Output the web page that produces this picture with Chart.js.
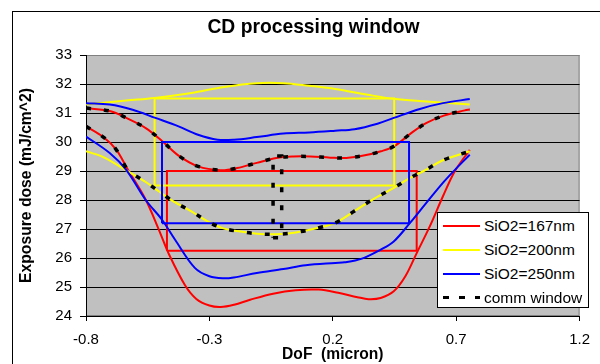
<!DOCTYPE html>
<html>
<head>
<meta charset="UTF-8">
<title>CD processing window</title>
<style>
body { margin: 0; background: #fff; overflow: hidden; }
#wrap { position: relative; width: 600px; height: 364px; overflow: hidden; font-family: "Liberation Sans", Arial, sans-serif; color: #000; }
#frame { position: absolute; left: 12px; top: 11px; width: 700px; height: 500px; border: 1px solid #000; }
#chart { position: absolute; left: 0; top: 0; }
#chartTitle { position: absolute; left: 0; width: 627px; top: 15px; height: 24px; line-height: 24px; text-align: center; font-weight: bold; font-size: 19.3px; }
#legend { position: absolute; left: 437px; top: 212px; width: 150px; height: 94px; border: 1px solid #000; background: #fff; }
.row { position: absolute; left: 0; width: 150px; height: 24px; line-height: 24px; font-size: 15.5px; white-space: nowrap; }
.sample { position: absolute; left: 5px; width: 37px; }
.label { position: absolute; left: 46px; top: 0; }
</style>
<script src="https://cdn.jsdelivr.net/npm/chart.js@4.4.0/dist/chart.umd.min.js"></script>
</head>
<body>
<div id="wrap">
	<div id="frame"></div>
	<canvas id="chart" width="600" height="364"></canvas>
	<div id="chartTitle">CD processing window</div>
	<div id="legend"></div>
</div>
<script>
// axes
var xTicks = [-0.8, -0.3, 0.2, 0.7, 1.2];
var yTicks = [24, 25, 26, 27, 28, 29, 30, 31, 32, 33];

var seriesNames = ['SiO2=167nm', 'SiO2=200nm', 'SiO2=250nm', 'comm window'];
var seriesColors = ['#ff0000', '#ffff00', '#0000ff', '#000000'];

// SiO2=167nm: upper and lower dose limits
var s167UpperX = [-0.8, -0.70, -0.637, -0.558, -0.49, -0.425, -0.346, -0.254, -0.188, -0.108, -0.029, 0.04, 0.11, 0.19, 0.255, 0.33, 0.395, 0.45, 0.515, 0.58, 0.65, 0.735, 0.755];
var s167UpperY = [31.17, 31.06, 30.83, 30.48, 30.02, 29.53, 29.16, 29.03, 29.1, 29.28, 29.45, 29.5, 29.5, 29.46, 29.45, 29.54, 29.68, 29.86, 30.29, 30.66, 30.91, 31.09, 31.12];
var s167LowerX = [-0.8, -0.73, -0.677, -0.63, -0.558, -0.505, -0.466, -0.40, -0.353, -0.30, -0.254, -0.20, -0.135, -0.042, 0.05, 0.143, 0.222, 0.30, 0.345, 0.394, 0.447, 0.494, 0.54, 0.593, 0.646, 0.695, 0.755];
var s167LowerY = [30.54, 30.17, 29.73, 29.04, 28.01, 26.98, 26.17, 25.08, 24.59, 24.36, 24.31, 24.39, 24.56, 24.77, 24.89, 24.91, 24.8, 24.65, 24.58, 24.62, 24.85, 25.37, 26.17, 27.09, 28.12, 29.0, 29.73];

// SiO2=200nm
var s200UpperX = [-0.8, -0.637, -0.522, -0.373, -0.24, -0.108, 0.0, 0.104, 0.21, 0.341, 0.447, 0.579, 0.755];
var s200UpperY = [31.29, 31.43, 31.52, 31.69, 31.9, 32.03, 32.03, 31.94, 31.83, 31.63, 31.49, 31.4, 31.29];
var s200LowerX = [-0.8, -0.73, -0.637, -0.558, -0.505, -0.446, -0.373, -0.307, -0.247, -0.174, -0.108, -0.03, 0.05, 0.156, 0.21, 0.288, 0.368, 0.447, 0.513, 0.579, 0.646, 0.755];
var s200LowerY = [29.68, 29.48, 29.02, 28.62, 28.3, 27.95, 27.61, 27.26, 27.03, 26.91, 26.84, 26.82, 26.88, 27.07, 27.21, 27.62, 28.05, 28.42, 28.76, 29.05, 29.37, 29.68];

// SiO2=250nm
var s250UpperX = [-0.8, -0.704, -0.611, -0.519, -0.425, -0.346, -0.267, -0.20, -0.108, 0.0, 0.104, 0.21, 0.288, 0.381, 0.447, 0.553, 0.646, 0.755];
var s250UpperY = [31.34, 31.29, 31.11, 30.83, 30.54, 30.25, 30.08, 30.08, 30.17, 30.29, 30.33, 30.39, 30.44, 30.63, 30.83, 31.14, 31.34, 31.48];
var s250LowerX = [-0.8, -0.704, -0.637, -0.558, -0.492, -0.439, -0.359, -0.30, -0.241, -0.201, -0.108, 0.0, 0.09, 0.21, 0.248, 0.315, 0.394, 0.447, 0.513, 0.579, 0.646, 0.695, 0.755];
var s250LowerY = [30.19, 29.62, 29.04, 28.0, 27.32, 26.63, 25.66, 25.37, 25.3, 25.33, 25.48, 25.62, 25.75, 25.83, 25.85, 25.97, 26.29, 26.57, 27.21, 27.9, 28.59, 29.04, 29.56];

// process windows (x from-to, y from-to)
var win167X = [-0.472, 0.540];
var win167Y = [26.25, 29.0];
var win200X = [-0.522, 0.449];
var win200Y = [28.5, 31.5];
var win250X = [-0.492, 0.509];
var win250Y = [27.2, 30.0];
var commWinX = [-0.042, -0.007];
var commWinY = [26.7, 29.52];
// where the 167nm lower limit hands over to the 200nm lower limit
var commCrossX = -0.63;

function pts(xs, ys) {
	return xs.map(function (x, i) { return { x: x, y: ys[i] }; });
}
function rect(xs, ys) {
	return [
		{ x: xs[0], y: ys[0] }, { x: xs[1], y: ys[0] },
		{ x: xs[1], y: ys[1] }, { x: xs[0], y: ys[1] }, { x: xs[0], y: ys[0] }
	];
}

var commLower = pts(s167LowerX, s167LowerY).filter(function (p) { return p.x <= commCrossX; })
	.concat(pts(s200LowerX, s200LowerY).filter(function (p) { return p.x > commCrossX; }));

function solid(idx, data, order, tension) {
	return {
		label: seriesNames[idx], data: data, order: order,
		showLine: true, borderColor: seriesColors[idx], backgroundColor: seriesColors[idx],
		borderWidth: 2, pointRadius: 0, tension: tension, fill: false
	};
}
function dashed(data, tension) {
	return {
		label: seriesNames[3], data: data, order: 0,
		showLine: true, borderColor: seriesColors[3], backgroundColor: seriesColors[3],
		borderWidth: 3.5, borderDash: [5, 13], borderCapStyle: 'butt',
		pointRadius: 0, tension: tension, fill: false
	};
}

var datasets = [
	solid(0, pts(s167UpperX, s167UpperY), 3, 0.35),
	solid(0, pts(s167LowerX, s167LowerY), 3, 0.35),
	solid(0, rect(win167X, win167Y), 3, 0),
	solid(1, pts(s200UpperX, s200UpperY), 2, 0.35),
	solid(1, pts(s200LowerX, s200LowerY), 2, 0.35),
	solid(1, rect(win200X, win200Y), 2, 0),
	solid(2, pts(s250UpperX, s250UpperY), 1, 0.35),
	solid(2, pts(s250LowerX, s250LowerY), 1, 0.35),
	solid(2, rect(win250X, win250Y), 1, 0),
	dashed(pts(s167UpperX, s167UpperY), 0.35),
	dashed(commLower, 0.35),
	dashed(rect(commWinX, commWinY), 0)
];

// grey plot area like the spreadsheet
var plotBg = {
	id: 'plotBg',
	beforeDraw: function (chart) {
		var a = chart.chartArea, c = chart.ctx;
		c.save();
		c.fillStyle = '#c0c0c0';
		c.fillRect(a.left, a.top, a.right - a.left, a.bottom - a.top);
		c.strokeStyle = '#808080';
		c.lineWidth = 1;
		c.strokeRect(a.left + 0.5, a.top + 0.5, a.right - a.left - 1, a.bottom - a.top - 1);
		c.restore();
	}
};

var fam = '"Liberation Sans", Arial, sans-serif';

new Chart(document.getElementById('chart').getContext('2d'), {
	type: 'scatter',
	data: { datasets: datasets },
	plugins: [plotBg],
	options: {
		responsive: false,
		animation: false,
		devicePixelRatio: 1,
		layout: { padding: { top: 55, right: 12, bottom: 0, left: 0 } },
		plugins: { legend: { display: false }, tooltip: { enabled: false }, title: { display: false } },
		scales: {
			x: {
				type: 'linear', min: xTicks[0], max: xTicks[xTicks.length - 1],
				afterBuildTicks: function (s) { s.ticks = xTicks.map(function (v) { return { value: v }; }); },
				afterFit: function (s) { s.height = 48; },
				ticks: { color: '#000', font: { family: fam, size: 15 }, padding: 10, maxRotation: 0,
					callback: function (v) { return String(v); } },
				grid: { drawOnChartArea: false, drawTicks: true, tickLength: 5, tickColor: '#000' },
				border: { color: '#000', width: 1 },
				title: { display: true, text: 'DoF  (micron)', color: '#000',
					font: { family: fam, size: 15.6, weight: 'bold' }, padding: { top: 0, bottom: 0 } }
			},
			y: {
				type: 'linear', min: yTicks[0], max: yTicks[yTicks.length - 1],
				afterBuildTicks: function (s) { s.ticks = yTicks.map(function (v) { return { value: v }; }); },
				afterFit: function (s) { s.width = 86; },
				ticks: { color: '#000', font: { family: fam, size: 15 }, padding: 8,
					callback: function (v) { return String(v); } },
				grid: {
					color: function (ctx) { return ctx.tick && ctx.tick.value === yTicks[yTicks.length - 1] ? '#808080' : '#000'; },
					tickColor: '#000', tickLength: 6, lineWidth: 1
				},
				border: { color: '#000', width: 1 },
				title: { display: true, text: 'Exposure dose (mJ/cm^2)', color: '#000',
					font: { family: fam, size: 15.7, weight: 'bold' }, padding: { top: 17, bottom: 0 } }
			}
		}
	}
});

// legend box inside the plot, one row per series
var legend = document.getElementById('legend');
var rowTops = [1, 25, 49, 72.5];
seriesNames.forEach(function (name, i) {
	var row = document.createElement('div');
	row.className = 'row';
	row.style.top = rowTops[i] + 'px';
	var sample = document.createElement('div');
	sample.className = 'sample';
	if (i === 3) {
		sample.style.top = '10px';
		sample.style.height = '3.5px';
		sample.style.background = 'repeating-linear-gradient(90deg, #000 0 6px, transparent 6px 16px)';
	} else {
		sample.style.top = '11px';
		sample.style.height = '2px';
		sample.style.background = seriesColors[i];
	}
	var label = document.createElement('span');
	label.className = 'label';
	label.textContent = name;
	row.appendChild(sample);
	row.appendChild(label);
	legend.appendChild(row);
});
</script>
</body>
</html>
